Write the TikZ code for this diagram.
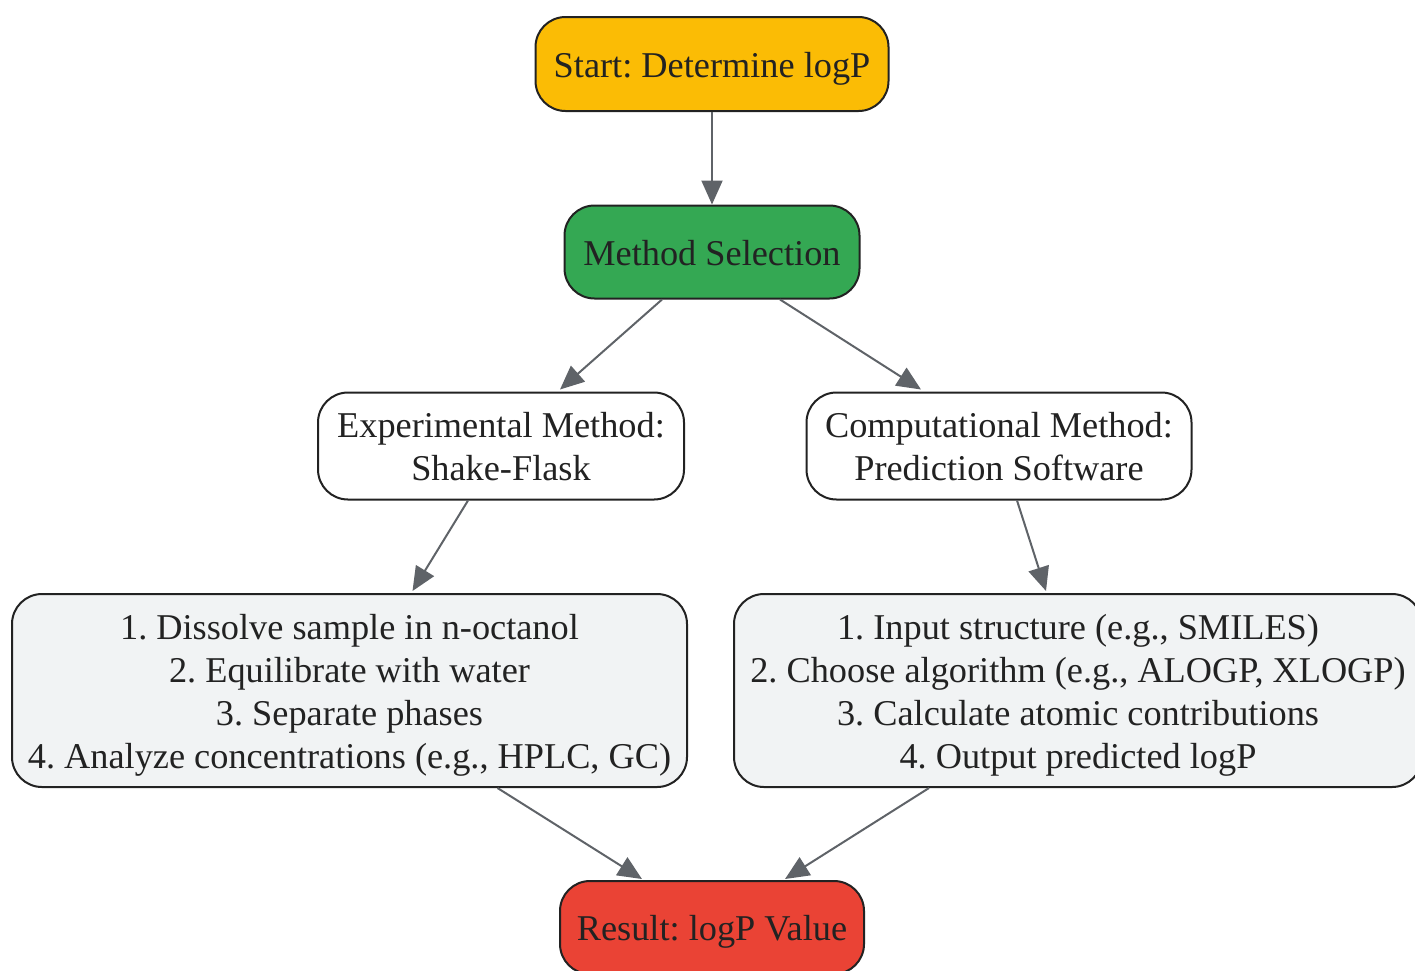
\documentclass[tikz,border=0pt]{standalone}
\usepackage{fontspec}
\setmainfont{Liberation Serif}
\usetikzlibrary{arrows.meta,calc}
\frenchspacing
\definecolor{txt}{HTML}{222222}
\definecolor{bord}{HTML}{222222}
\definecolor{arr}{HTML}{5F6368}
\definecolor{cstart}{HTML}{FBBC05}
\definecolor{cmeth}{HTML}{34A853}
\definecolor{cres}{HTML}{EA4335}
\definecolor{cstep}{HTML}{F1F3F4}
\newcommand\lowtext[1]{\raisebox{-4.5pt}[\height][\depth]{\begin{tabular}{@{}c@{}}#1\end{tabular}}}
\tikzset{
  box/.style={draw=bord, line width=2pt, rounded corners=30pt, align=center,
    text=txt, inner sep=0pt, font=\fontsize{36.3}{43}\selectfont},
  link/.style={draw=arr, line width=2pt, -{Triangle[length=24pt,width=21pt]}},
}
\begin{document}
\begin{tikzpicture}[x=1pt,y=-1pt]
\useasboundingbox (0,0) rectangle (1415,970);
\node[box, fill=cstart, minimum width=353pt, minimum height=94pt] (s) at (712,64) {\lowtext{Start: Determine logP}};
\node[box, fill=cmeth, minimum width=295pt, minimum height=93pt] (m) at (712,252) {\lowtext{Method Selection}};
\node[box, fill=white, minimum width=366pt, minimum height=107pt] (e) at (501,446) {\lowtext{Experimental Method:\\Shake-Flask}};
\node[box, fill=white, minimum width=385pt, minimum height=107pt] (c) at (999,446) {\lowtext{Computational Method:\\Prediction Software}};
\node[box, fill=cstep, minimum width=675pt, minimum height=193pt] (l) at (349.5,690.5) {\lowtext{1. Dissolve sample in n-octanol\\2. Equilibrate with water\\3. Separate phases\\4. Analyze concentrations (e.g., HPLC, GC)}};
\node[box, fill=cstep, minimum width=688pt, minimum height=193pt] (r) at (1078,690.5) {\lowtext{1. Input structure (e.g., SMILES)\\2. Choose algorithm (e.g., ALOGP, XLOGP)\\3. Calculate atomic contributions\\4. Output predicted logP}};
\node[box, fill=cres, minimum width=304pt, minimum height=93pt] (res) at (712,927.5) {\lowtext{Result: logP Value}};
\draw[link] (s.south) -- (m.north);
\draw[link] ($(m.south)+(-50,0)$) -- ($(e.north)+(59,-2)$);
\draw[link] ($(m.south)+(68,0)$) -- ($(c.north)+(-78,-2)$);
\draw[link] ($(e.south)+(-33,0)$) -- ($(l.north)+(63,-2)$);
\draw[link] ($(c.south)+(18,0)$) -- ($(r.north)+(-32,-2)$);
\draw[link] ($(l.south)+(148,0)$) -- ($(res.north)+(-70,-1)$);
\draw[link] ($(r.south)+(-149,0)$) -- ($(res.north)+(73,-1)$);
\end{tikzpicture}
\end{document}
